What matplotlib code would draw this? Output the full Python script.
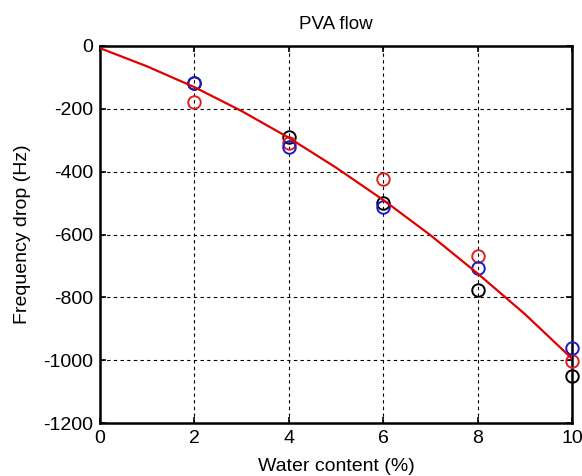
import matplotlib
matplotlib.use("Agg")
import matplotlib.pyplot as plt

plt.rcParams['font.family'] = ['Liberation Sans', 'DejaVu Sans']
plt.rcParams['axes.unicode_minus'] = False

water = [2, 4, 6, 8, 10]
black_vals = [-118, -289, -501, -777, -1050]
red_vals = [-178, -308, -423, -667, -1002]
blue_vals = [-118, -321, -513, -708, -962]

fit_x = [0, 1, 2, 3, 4, 5, 6, 7, 8, 9, 10]
fit_y = [-7, -65, -131, -207, -292, -387, -490, -602, -724, -853, -995]

xticks = [0, 2, 4, 6, 8, 10]
yticks = [0, -200, -400, -600, -800, -1000, -1200]

fig = plt.figure(figsize=(5.82, 4.76), dpi=100)
ax = fig.add_axes([0.1718, 0.1113, 0.811, 0.7921])

mk = dict(marker='o', linestyle='none', markersize=9, markerfacecolor='none',
          markeredgewidth=1.4, clip_on=False, zorder=3)
ax.plot(water, black_vals, markeredgecolor='black', **mk)
ax.plot(water, red_vals, markeredgecolor='#e02020', **mk)
ax.plot(water, blue_vals, markeredgecolor='#1a1acc', **mk)
ax.plot(fit_x, fit_y, color='#e00000', linewidth=1.6, zorder=4)

ax.set_xlim(0, 10)
ax.set_ylim(-1200, 0)
ax.set_xticks(xticks)
ax.set_yticks(yticks)
ax.grid(True, color='black', linestyle=(0, (3, 3)), linewidth=0.8)
ax.tick_params(direction='in', top=True, right=True, labelsize=14, length=4, width=1.2, pad=5)
for s in ax.spines.values():
    s.set_linewidth(1.8)

ax.set_title('PVA flow', fontsize=13.5, pad=12)
ax.set_xlabel('Water content (%)', fontsize=14, labelpad=8)
ax.set_ylabel('Frequency drop (Hz)', fontsize=14, labelpad=9)

fig.savefig('out.png', dpi=100)
